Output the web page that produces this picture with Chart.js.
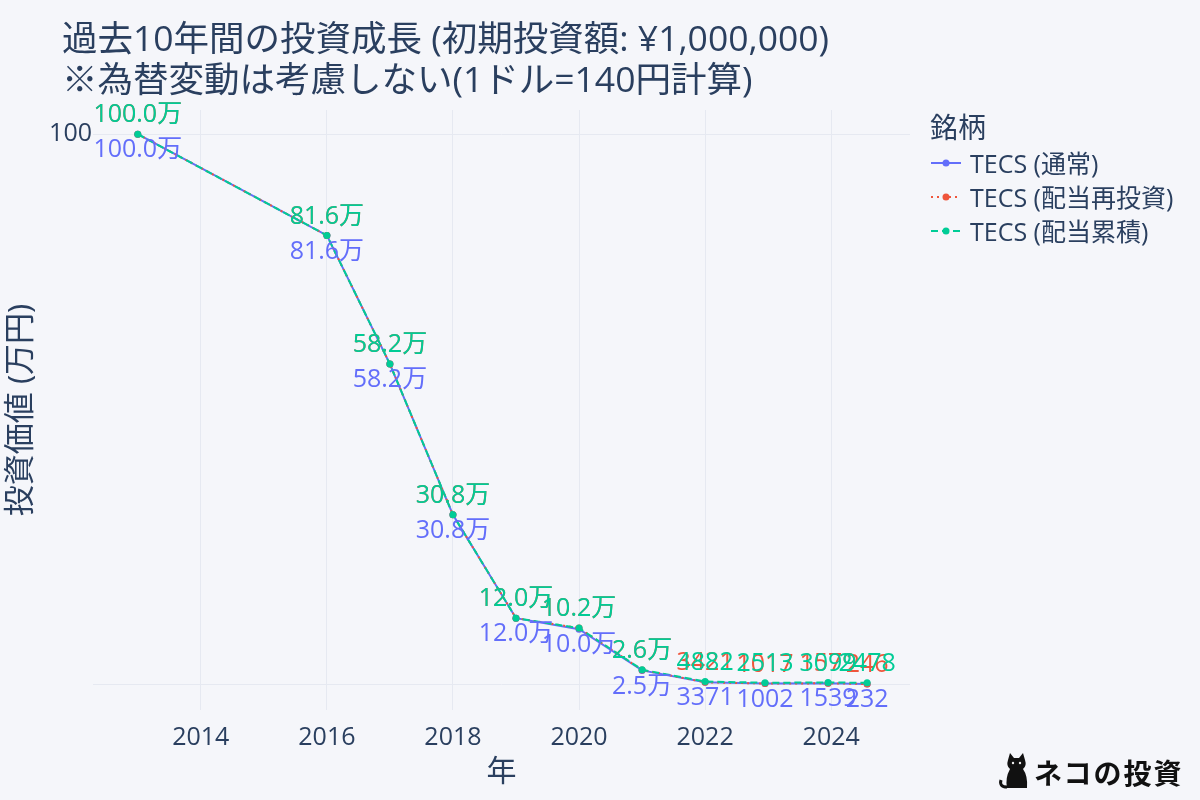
<!DOCTYPE html>
<html lang="ja">
<head>
<meta charset="utf-8">
<script src="https://cdn.jsdelivr.net/npm/chart.js@4.4.1/dist/chart.umd.min.js"></script>
<style>
  html, body { margin: 0; padding: 0; background: #f5f6fa; }
  #wrap { position: relative; width: 1200px; height: 800px; background: #f5f6fa;
          font-family: "Open Sans", "Noto Sans CJK JP", sans-serif; color: #2a3f5f; }
  #title { position: absolute; left: 62px; top: 17px; font-size: 35.5px; line-height: 41px; white-space: nowrap; }
  #legend { position: absolute; left: 930px; top: 108px; font-size: 25px; }
  #legend .head { height: 38px; line-height: 38px; font-size: 28px; }
  #legend .item { height: 34px; line-height: 34px; display: flex; align-items: center; white-space: nowrap; }
  #legend svg { margin-right: 8px; }
  #mark { position: absolute; left: 998px; top: 752px; display: flex; align-items: center;
          font-family: "Noto Sans CJK JP", sans-serif; font-size: 28px; font-weight: bold; color: #111; letter-spacing: 2px; }
  canvas { position: absolute; left: 0; top: 0; }
</style>
</head>
<body>
<div id="wrap">
  <canvas id="chart" width="1200" height="800"></canvas>
  <div id="title">過去10年間の投資成長 (初期投資額: ¥1,000,000)<br>※為替変動は考慮しない(1ドル=140円計算)</div>
  <div id="legend"></div>
  <div id="mark">
    <svg width="36" height="40" viewBox="0 0 36 40">
      <path d="M10 8 L12 1 L16 6 L21 6 L25 1 L27 8 Q29 14 25 17 Q30 24 29 36 L9 36 Q7 26 12 17 Q8 14 10 8 Z" fill="#111"/>
      <path d="M9 35 Q1 35 3 28" stroke="#111" stroke-width="3" fill="none"/>
      <circle cx="15" cy="11" r="1.2" fill="#eee"/><circle cx="22" cy="11" r="1.2" fill="#eee"/>
    </svg>
    <span>ネコの投資</span>
  </div>
</div>
<script>
// --- DATA ---
const years = [2013, 2016, 2017, 2018, 2019, 2020, 2021, 2022, 2022.95, 2023.95, 2024.57];
const normalValues = [100.0, 81.6, 58.2, 30.8, 12.0, 10.0, 2.5, 0.3371, 0.1002, 0.1539, 0.0232];      // 万円
const reinvestValues = [100.0, 81.6, 58.2, 30.8, 12.0, 10.2, 2.58, 0.3421, 0.1017, 0.1579, 0.0246];
const cumulativeValues = [100.0, 81.6, 58.2, 30.8, 12.0, 10.2, 2.62, 0.4882, 0.2513, 0.3099, 0.2478];
const seriesNames = ['TECS (通常)', 'TECS (配当再投資)', 'TECS (配当累積)'];
const xTicks = [2014, 2016, 2018, 2020, 2022, 2024];
const yTicks = [0, 100];

const FONT = '"Open Sans", "Noto Sans CJK JP", sans-serif';
const TEXT = '#2a3f5f';
const GRID = '#e6e9f1';

const series = [
    { name: seriesNames[0], values: normalValues, color: '#636efa', dash: [], labelPos: 'below', order: 2 },
    { name: seriesNames[1], values: reinvestValues, color: '#ef553b', dash: [2, 4], labelPos: 'above', order: 1 },
    { name: seriesNames[2], values: cumulativeValues, color: '#00cc96', dash: [7, 4], labelPos: 'above', order: 0 }
];

// Legend (HTML)
(function buildLegend() {
    const box = document.getElementById('legend');
    let html = '<div class="head">銘柄</div>';
    series.forEach(s => {
        const da = s.dash.length ? `stroke-dasharray="${s.dash.join(' ')}"` : '';
        html += `<div class="item"><svg width="32" height="14"><line x1="1" y1="7" x2="31" y2="7" stroke="${s.color}" stroke-width="2" ${da}/>` +
                `<circle cx="16" cy="7" r="3.5" fill="${s.color}"/></svg>${s.name}</div>`;
    });
    box.innerHTML = html;
})();

// Value labels above / below points
function fmt(v) { return v >= 1 ? v.toFixed(1) + '万' : String(Math.round(v * 10000)); }
const valueLabels = {
    id: 'valueLabels',
    afterDatasetsDraw(chart) {
        const ctx = chart.ctx;
        ctx.save();
        ctx.font = '25px ' + FONT;
        ctx.textAlign = 'center';
        ctx.textBaseline = 'middle';
        series.forEach((s, i) => {
            const meta = chart.getDatasetMeta(i);
            ctx.fillStyle = s.color;
            meta.data.forEach((pt, j) => {
                const dy = s.labelPos === 'below' ? 16 : -19;
                ctx.fillText(fmt(s.values[j]), pt.x, pt.y + dy);
            });
        });
        ctx.restore();
    }
};

const chart = new Chart(document.getElementById('chart'), {
    type: 'line',
    data: {
        datasets: series.map(s => ({
            label: s.name,
            data: years.map((y, i) => ({ x: y, y: s.values[i] })),
            borderColor: s.color,
            backgroundColor: s.color,
            borderWidth: 2,
            borderDash: s.dash,
            pointRadius: 3.5,
            pointBorderWidth: 0,
            order: s.order,
            tension: 0
        }))
    },
    options: {
        responsive: false,
        animation: false,
        layout: { padding: { top: 110, right: 290, left: 0, bottom: 0 } },
        plugins: { legend: { display: false }, tooltip: { enabled: false } },
        scales: {
            x: {
                type: 'linear', min: 2012.29, max: 2025.25,
                afterBuildTicks: s => { s.ticks = xTicks.map(v => ({ value: v })); },
                afterFit: s => { s.height = 90; },
                grid: { color: GRID, drawTicks: false },
                border: { display: false },
                ticks: { padding: 13, color: TEXT, font: { family: FONT, size: 25 }, callback: v => String(v) },
                title: { display: true, text: '年', color: TEXT, font: { family: FONT, size: 30 }, padding: { top: 0, bottom: 10 } }
            },
            y: {
                min: -4.7, max: 104.4,
                afterBuildTicks: s => { s.ticks = yTicks.map(v => ({ value: v })); },
                afterFit: s => { s.width = 93; },
                grid: { color: GRID, drawTicks: false },
                border: { display: false },
                ticks: { padding: 1, color: TEXT, font: { family: FONT, size: 25 }, callback: v => v === 0 ? '' : String(v) },
                title: { display: true, text: '投資価値 (万円)', color: TEXT, font: { family: FONT, size: 31 }, padding: { top: 3, bottom: 0 } }
            }
        }
    },
    plugins: [valueLabels]
});
</script>
</body>
</html>
